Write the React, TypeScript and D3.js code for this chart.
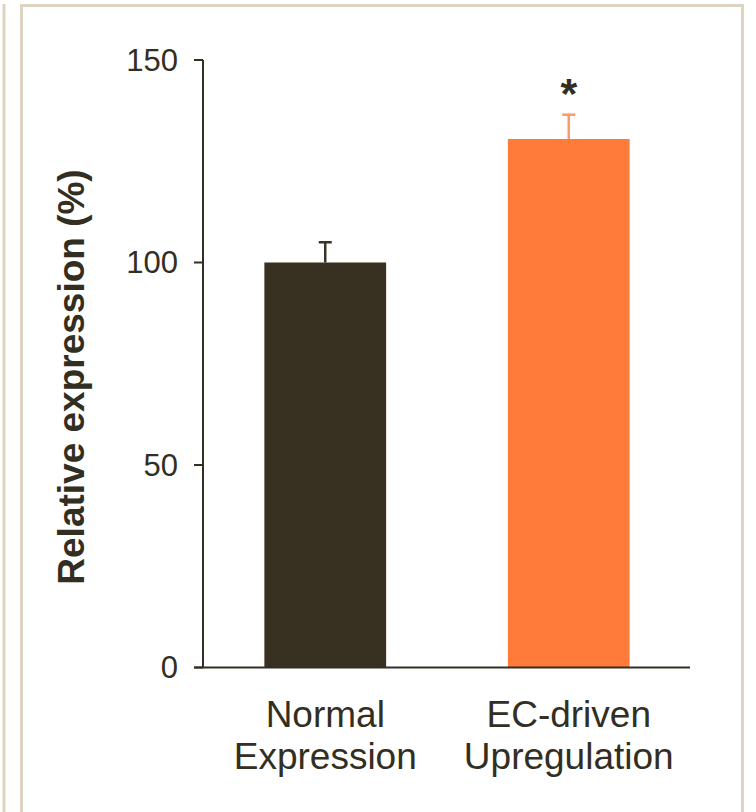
import React from "react";
import * as d3 from "d3";

const categories = ["Normal Expression", "EC-driven Upregulation"];
const labelLines = [["Normal", "Expression"], ["EC-driven", "Upregulation"]];
const values = [100, 130.5];
const errors = [5, 6];
const significance = ["", "*"];
const yTicks = [0, 50, 100, 150];
const barColors = ["#383020", "#fe7b3a"];
const errColors = ["#3a3426", "#fe9a66"];

const W = 756;
const H = 812;
const ink = "#332e22";
const frame = "#ddd4c2";

export default function App() {
  const y = d3.scaleLinear().domain([0, 150]).range([667.5, 60]);
  const x = d3
    .scaleBand<string>()
    .domain(categories)
    .range([203.5, 690.5])
    .paddingInner(0.5)
    .paddingOuter(0.25);
  const axisX = 203;
  const font = "Liberation Sans, Arial, Helvetica, sans-serif";

  return (
    <svg
      width={W}
      height={H}
      style={{ position: "absolute", left: 0, top: 0, background: "#fff" }}
      fontFamily={font}
    >
      {/* frames */}
      <line x1={4} x2={4} y1={4} y2={H} stroke={frame} strokeWidth={3} />
      <path
        d={`M21.5,${H} L21.5,5.5 L742.5,5.5 L742.5,${H}`}
        fill="none"
        stroke={frame}
        strokeWidth={3}
      />

      {/* bars */}
      {categories.map((c, i) => (
        <rect
          key={c}
          x={x(c)}
          y={y(values[i])}
          width={x.bandwidth()}
          height={y(0) - y(values[i])}
          fill={barColors[i]}
        />
      ))}

      {/* error bars */}
      {categories.map((c, i) => {
        const cx = (x(c) as number) + x.bandwidth() / 2;
        const top = y(values[i] + errors[i]);
        return (
          <g key={c + "e"} stroke={errColors[i]} strokeWidth={2.5}>
            <line x1={cx} x2={cx} y1={y(values[i])} y2={top} />
            <line x1={cx - 6.5} x2={cx + 6.5} y1={top} y2={top} />
          </g>
        );
      })}

      {/* significance */}
      {categories.map((c, i) =>
        significance[i] ? (
          <text
            key={c + "s"}
            x={(x(c) as number) + x.bandwidth() / 2}
            y={108}
            textAnchor="middle"
            fontSize={43}
            fontWeight="bold"
            fill={ink}
          >
            {significance[i]}
          </text>
        ) : null
      )}

      {/* axes */}
      <line x1={axisX} x2={axisX} y1={y(150)} y2={y(0)} stroke={ink} strokeWidth={2} />
      <line x1={194} x2={690} y1={y(0)} y2={y(0)} stroke={ink} strokeWidth={2} />
      {yTicks.map((t) => (
        <g key={t}>
          <line x1={194} x2={axisX} y1={y(t)} y2={y(t)} stroke={ink} strokeWidth={2} />
          <text
            x={178}
            y={y(t) + 10.5}
            textAnchor="end"
            fontSize={31}
            fill={ink}
          >
            {t}
          </text>
        </g>
      ))}

      {/* x labels */}
      {categories.map((c, i) => {
        const cx = (x(c) as number) + x.bandwidth() / 2;
        return (
          <text key={c + "l"} textAnchor="middle" fontSize={37} fill={ink}>
            <tspan x={cx} y={727}>
              {labelLines[i][0]}
            </tspan>
            <tspan x={cx} y={769}>
              {labelLines[i][1]}
            </tspan>
          </text>
        );
      })}

      {/* y label */}
      <text
        transform="translate(84,377) rotate(-90)"
        textAnchor="middle"
        fontSize={37}
        fontWeight="bold"
        fill={ink}
      >
        Relative expression (%)
      </text>
    </svg>
  );
}
